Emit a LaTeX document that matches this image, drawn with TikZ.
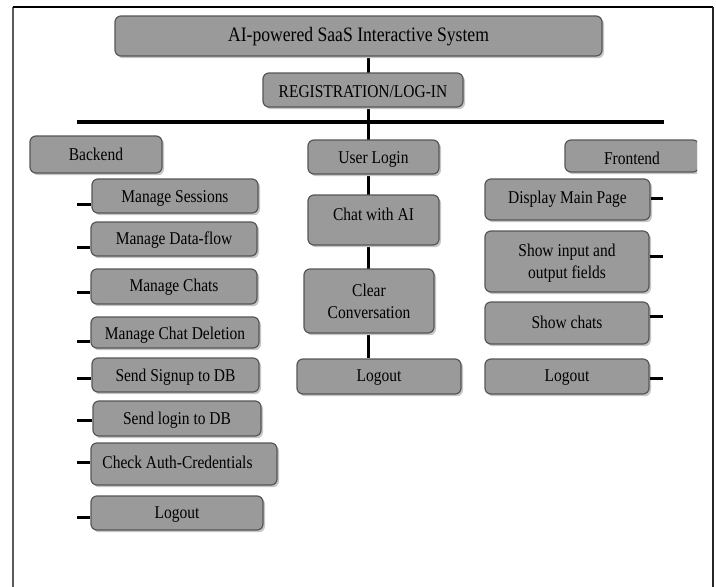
\documentclass[tikz,border=0pt]{standalone}
\usepackage{fontspec}
\setmainfont{Liberation Serif}[FakeStretch=0.86]
\usetikzlibrary{shadows,backgrounds}
\definecolor{boxfill}{HTML}{9A9A9A}
\definecolor{boxedge}{HTML}{565656}
\definecolor{shadowc}{HTML}{C6C6C6}
\definecolor{leftframe}{HTML}{5A5A5A}
\newcommand{\shiftup}[2]{\raisebox{#1}[\height][\depth]{#2}}
\begin{document}
\begin{tikzpicture}[x=1pt,y=-1pt,
  box/.style={draw=boxedge, fill=boxfill, line width=1.2pt, rounded corners=6pt,
    inner sep=0pt, text=black, align=center,
    font=\fontsize{18}{22}\selectfont,
    drop shadow={shadow xshift=2pt, shadow yshift=-2.2pt, fill=shadowc, opacity=1}},
  wh/.style 2 args={minimum width=#1pt, minimum height=#2pt},
  vline/.style={line width=3pt, black},
  hline/.style={line width=3.5pt, black},
  tickline/.style={line width=3pt, black}]
\useasboundingbox (0,0) rectangle (716,587);
% frame
\draw[leftframe, line width=2pt] (12.5,587) -- (12.5,7);
\draw[black, line width=1.4pt] (12.5,7) -- (712.5,7);
\draw[black!85, line width=2pt] (712.5,7) -- (712.5,587);

% top
\node[box, wh={487}{40}, font=\fontsize{20.5}{24}\selectfont] (title) at (358.5,36) {\shiftup{-1pt}{AI-powered SaaS Interactive System}};
\node[box, wh={200}{34}] (reg) at (363,90) {\shiftup{-1.5pt}{REGISTRATION/LOG-IN}};

% horizontal bar
\coordinate (hl) at (77,122);
\coordinate (hr) at (664,122);
\draw[hline] (hl) -- (hr);

% column heads
\node[box, wh={132}{37}] (backend) at (96,154.5) {Backend};
\node[box, wh={131}{34}] (userlogin) at (373.5,157) {\shiftup{-2.5pt}{User Login}};
\begin{scope}
\clip (0,0) rectangle (697,587);
\node[box, wh={134}{32}] (frontend) at (632,156) {\shiftup{-2pt}{Frontend}};
\end{scope}

% backend column
\node[box, wh={166}{34}] (ms) at (175,196) {\shiftup{-2.5pt}{Manage Sessions}};
\node[box, wh={166}{34}] (mdf) at (174,239) {\shiftup{-1pt}{Manage Data-flow}};
\node[box, wh={166}{35}] (mc) at (174,286.5) {\shiftup{-1pt}{Manage Chats}};
\node[box, wh={168}{31}] (mcd) at (175,332.5) {\shiftup{-2.5pt}{Manage Chat Deletion}};
\node[box, wh={167}{34}] (ssd) at (175.5,375) {\shiftup{-2.5pt}{Send Signup to DB}};
\node[box, wh={168}{35}] (sld) at (177,418.5) {\shiftup{-1.5pt}{Send login to DB}};
\node[box, wh={186}{42}] (cac) at (184,464) {\shiftup{2pt}{Check Auth-Credentials\hspace*{13pt}}};
\node[box, wh={172}{34}] (blogout) at (177,513) {\shiftup{-2pt}{Logout}};

% center column
\node[box, wh={131}{50}] (chat) at (373.5,220) {\shiftup{6pt}{Chat with AI}};
\node[box, wh={130}{64}] (clear) at (369,301) {Clear\\Conversation};
\node[box, wh={164}{35}] (clogout) at (379,376.5) {\shiftup{-1.5pt}{Logout}};

% frontend column
\node[box, wh={165}{41}] (dmp) at (567.5,199.5) {Display Main Page};
\node[box, wh={164}{61}] (sio) at (567,261.5) {\shiftup{-1.5pt}{\begin{tabular}{@{}c@{}}Show input and\\output fields\end{tabular}}};
\node[box, wh={164}{42}] (sc) at (567,323) {\shiftup{1pt}{Show chats}};
\node[box, wh={164}{35}] (flogout) at (567,376.5) {\shiftup{-1.5pt}{Logout}};

% main vertical connector behind the boxes
\coordinate (vx) at (368,0);
\begin{pgfonlayer}{background}
\draw[vline] (title.south -| vx) -- (clogout.north -| vx);
\end{pgfonlayer}

% left ticks
\foreach \n/\ty in {ms/204, mdf/247, mc/292, mcd/341, ssd/378, sld/420, cac/462, blogout/517}{
  \coordinate (t-\n) at (77,\ty);
  \draw[tickline] (t-\n) -- (t-\n -| \n.west);
}
% right ticks
\foreach \n/\ty in {dmp/198, sio/256, sc/316, flogout/378}{
  \coordinate (t-\n) at (663,\ty);
  \draw[tickline] (t-\n -| \n.east) -- (t-\n);
}
\end{tikzpicture}
\end{document}
